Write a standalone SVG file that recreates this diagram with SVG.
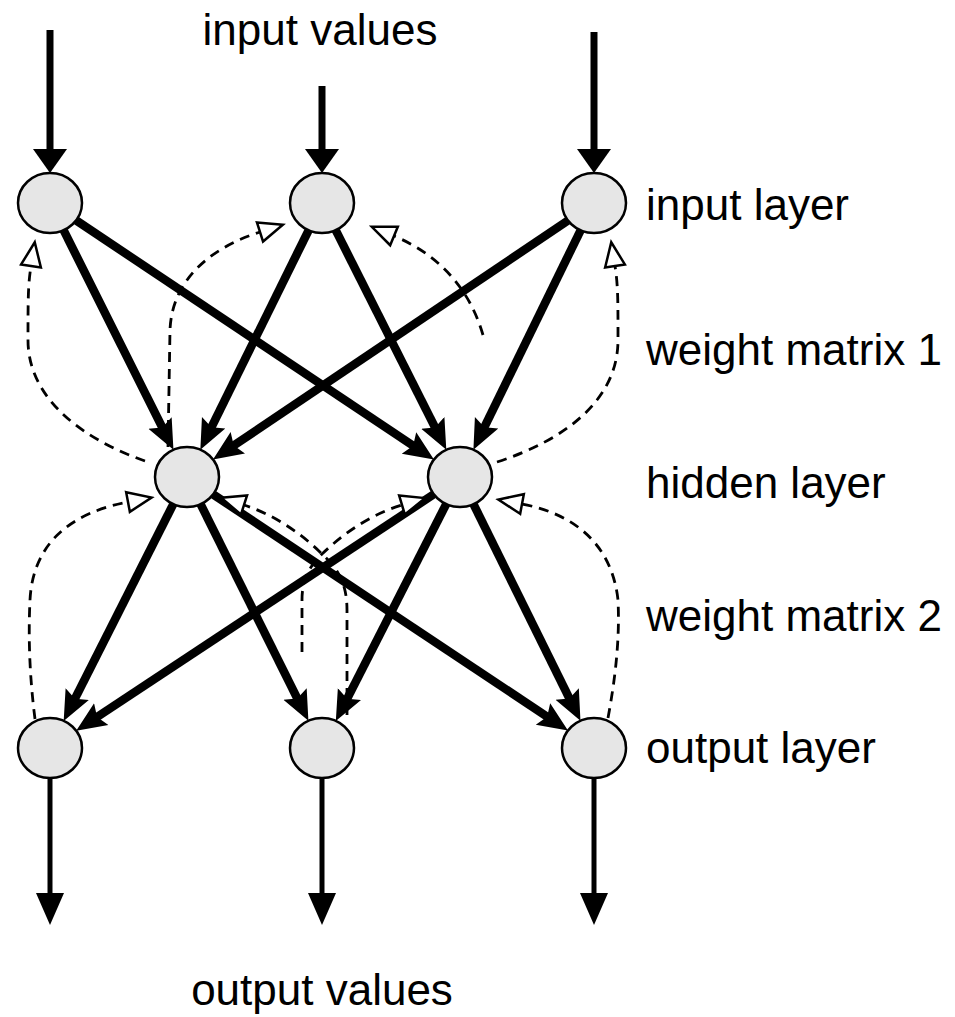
<svg xmlns="http://www.w3.org/2000/svg" width="955" height="1017" viewBox="0 0 955 1017">
  <style>
    .node { fill: #e6e6e6; stroke: #000; stroke-width: 2.5; }
    .w { fill: none; stroke: #000; stroke-width: 8.5; marker-end: url(#solid); }
    .io { fill: none; stroke: #000; }
    .head { fill: #000; stroke: none; }
    .err { fill: none; stroke: #000; stroke-width: 2.8; stroke-dasharray: 10 7; marker-end: url(#hollow); }
    .lbl { font-family: "Liberation Sans", Arial, sans-serif; font-size: 44px; fill: #000; }
  </style>
  <defs>
    <marker id="solid" markerUnits="userSpaceOnUse" viewBox="0 -14 32 28" markerWidth="32" markerHeight="28" refX="10" refY="0" orient="auto">
      <path d="M0,-13 L30,0 L0,13 L5,0 z" fill="#000"/>
    </marker>
    <marker id="hollow" markerUnits="userSpaceOnUse" viewBox="-2 -12 29 24" markerWidth="29" markerHeight="24" refX="0" refY="0" orient="auto">
      <path d="M0,-10 L24,0 L0,10 z" fill="#fff" stroke="#000" stroke-width="2.5"/>
    </marker>
  </defs>

  <g id="connectors">
    <!-- input values feeding the input layer -->
    <line class="io" x1="50" y1="30" x2="50" y2="152" stroke-width="7"/>
    <polygon class="head" points="33,149 67,149 50,173"/>
    <line class="io" x1="322" y1="86" x2="322" y2="152" stroke-width="7"/>
    <polygon class="head" points="305,149 339,149 322,173"/>
    <line class="io" x1="594" y1="32" x2="594" y2="152" stroke-width="7"/>
    <polygon class="head" points="577,149 611,149 594,173"/>

    <!-- weight matrix 1: input -> hidden -->
    <line class="w" x1="63.6" y1="230.2" x2="164.5" y2="431.9"/>
    <line class="w" x1="76.1" y1="220.4" x2="417.3" y2="448.5"/>
    <line class="w" x1="308.6" y1="230.3" x2="209.2" y2="431.8"/>
    <line class="w" x1="335.7" y1="230.2" x2="437.3" y2="431.9"/>
    <line class="w" x1="568" y1="220.5" x2="229.6" y2="448.3"/>
    <line class="w" x1="580.6" y1="230.3" x2="482.2" y2="431.7"/>

    <!-- weight matrix 2: hidden -> output -->
    <line class="w" x1="173.3" y1="504.1" x2="72.7" y2="703.1"/>
    <line class="w" x1="200.6" y1="504.2" x2="299.5" y2="702.9"/>
    <line class="w" x1="213.1" y1="494.4" x2="551.3" y2="719.5"/>
    <line class="w" x1="433.8" y1="494.3" x2="92.9" y2="719.7"/>
    <line class="w" x1="446.2" y1="504.1" x2="344.9" y2="703.1"/>
    <line class="w" x1="473.5" y1="504.2" x2="571.6" y2="702.9"/>

    <!-- error feedback, hidden -> input -->
    <path class="err" d="M145,461 C85,440 28,400 28,340 C28,300 28,285 31,266"/>
    <path class="err" d="M168,447 L170,330 C172,280 210,248 260,232"/>
    <path class="err" d="M483,335 C470,290 440,255 394,236"/>
    <path class="err" d="M497,462 C565,440 618,400 618,340 C618,300 618,285 615,266"/>

    <!-- error feedback, output -> hidden -->
    <path class="err" d="M35,719 C30,680 28,640 30,600 C33,540 75,512 128,502"/>
    <path class="err" d="M347,715 L347,610 C347,580 335,566 322,554 C300,532 272,514 244,505"/>
    <path class="err" d="M302,652 L302,600 C302,578 310,566 322,554 C345,532 372,514 402,505"/>
    <path class="err" d="M608,718 C615,680 620,640 618,600 C612,545 575,514 522,504"/>

    <!-- output values leaving the output layer -->
    <line class="io" x1="50" y1="778" x2="50" y2="896" stroke-width="5"/>
    <polygon class="head" points="36,893 64,893 50,925"/>
    <line class="io" x1="322" y1="778" x2="322" y2="896" stroke-width="5"/>
    <polygon class="head" points="308,893 336,893 322,925"/>
    <line class="io" x1="594" y1="778" x2="594" y2="896" stroke-width="5"/>
    <polygon class="head" points="580,893 608,893 594,925"/>
  </g>

  <g id="input-1"><ellipse class="node" cx="50" cy="203" rx="32" ry="30"/></g>
  <g id="input-2"><ellipse class="node" cx="322" cy="203" rx="32" ry="30"/></g>
  <g id="input-3"><ellipse class="node" cx="594" cy="203" rx="32" ry="30"/></g>
  <g id="hidden-1"><ellipse class="node" cx="187" cy="477" rx="32" ry="30"/></g>
  <g id="hidden-2"><ellipse class="node" cx="460" cy="477" rx="32" ry="30"/></g>
  <g id="output-1"><ellipse class="node" cx="50" cy="748" rx="32" ry="30"/></g>
  <g id="output-2"><ellipse class="node" cx="322" cy="748" rx="32" ry="30"/></g>
  <g id="output-3"><ellipse class="node" cx="594" cy="748" rx="32" ry="30"/></g>

  <g id="labels">
    <text class="lbl" x="320" y="45" text-anchor="middle">input values</text>
    <text class="lbl" x="646" y="220">input layer</text>
    <text class="lbl" x="646" y="365">weight matrix 1</text>
    <text class="lbl" x="646" y="498">hidden layer</text>
    <text class="lbl" x="646" y="631">weight matrix 2</text>
    <text class="lbl" x="646" y="763">output layer</text>
    <text class="lbl" x="322" y="1005" text-anchor="middle">output values</text>
  </g>
</svg>
